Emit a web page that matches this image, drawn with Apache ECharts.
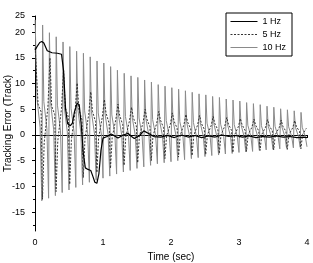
<!DOCTYPE html>
<html>
<head>
<meta charset="utf-8">
<script src="https://cdn.jsdelivr.net/npm/echarts@6/dist/echarts.min.js"></script>
<style>
html,body{margin:0;padding:0;background:#fff;}
#c{width:313px;height:263px;}
</style>
</head>
<body>
<div id="c"></div>
<script>
// ---------- data ----------
const seriesNames = ['1 Hz', '5 Hz', '10 Hz'];

// 1 Hz (solid black): sample times (s) and tracking error
const oneHzTime = [0, 0.03, 0.07, 0.1, 0.13, 0.18, 0.25, 0.33, 0.39, 0.42, 0.45, 0.48, 0.52, 0.55, 0.58, 0.62, 0.65, 0.68, 0.71, 0.74, 0.78, 0.82, 0.85, 0.88, 0.91, 0.94, 0.97, 1.0, 1.06, 1.12, 1.17, 1.22, 1.3, 1.37, 1.42, 1.46, 1.53, 1.6, 1.67, 1.75, 1.85, 1.95, 2.05, 2.15, 2.25, 2.35, 2.45, 2.55, 2.65, 2.75, 2.85, 2.95, 3.05, 3.15, 3.25, 3.35, 3.45, 3.55, 3.65, 3.75, 3.85, 3.95, 4.0];
const oneHzValue = [16.5, 17.2, 18.0, 18.2, 17.9, 16.4, 16.0, 15.9, 15.7, 12.5, 5.0, 2.2, 1.8, 2.3, 4.5, 6.2, 5.9, 2.0, -3.5, -6.4, -6.7, -6.9, -8.0, -9.2, -9.4, -7.5, -3.0, -0.6, -0.3, 0.2, -0.2, -0.6, 0.0, 0.3, -0.3, -0.7, -0.2, 0.8, 0.3, -0.3, -0.4, -0.1, -0.5, 0.0, -0.4, -0.1, -0.5, -0.2, -0.4, 0.0, -0.3, -0.1, -0.4, -0.2, -0.5, -0.3, -0.4, -0.2, -0.4, -0.3, -0.5, -0.4, -0.5];

// 5 Hz (dotted): one cycle every 0.2 s
const fiveHzPeak   = [17.0, 15.0, 12.6, 10.1, 8.4, 6.9, 6.0, 5.4, 5.0, 4.6, 4.3, 4.0, 3.8, 3.6, 3.4, 3.2, 3.1, 3.0, 2.9, 2.8];
const fiveHzAfterPeak = [6.0, 5.6, 5.4, 5.0, 4.6, 4.2, 3.8, 3.4, 3.1, 2.9, 2.7, 2.5, 2.3, 2.2, 2.1, 2.0, 1.9, 1.8, 1.7, 1.6];
const fiveHzBeforeTrough = [4.5, 4.0, 3.5, 3.0, 2.6, 2.3, 2.0, 1.8, 1.6, 1.4, 1.3, 1.2, 1.1, 1.0, 0.9, 0.9, 0.8, 0.8, 0.7, 0.7];
const fiveHzTrough = [-12.5, -11.0, -9.6, -8.3, -7.3, -6.5, -5.9, -5.4, -5.0, -4.6, -4.3, -4.0, -3.8, -3.6, -3.4, -3.2, -3.0, -2.9, -2.8, -2.7];
const fiveHzAfterTrough = [-1.5, -1.2, -1.0, -0.8, -0.6, -0.5, -0.4, -0.3, -0.2, -0.2, -0.1, -0.1, 0.0, 0.0, 0.0, 0.1, 0.1, 0.1, 0.1, 0.1];
const fiveHzBeforePeak = [5.5, 5.2, 4.6, 4.0, 3.5, 3.1, 2.8, 2.5, 2.3, 2.1, 2.0, 1.9, 1.8, 1.7, 1.6, 1.5, 1.5, 1.4, 1.4, 1.3];
const fiveHzCycleStart = [0, 0.2, 0.4, 0.6, 0.8, 1.0, 1.2, 1.4, 1.6, 1.8, 2.0, 2.2, 2.4, 2.6, 2.8, 3.0, 3.2, 3.4, 3.6, 3.8];
const fiveHzPhase = [0.02, 0.045, 0.09, 0.11, 0.135, 0.19]; // sample offsets inside a cycle

// 10 Hz (grey): one cycle every 0.1 s
const tenHzPeak = [22.4, 21.4, 19.9, 19.1, 18.1, 17.2, 16.3, 15.9, 15.2, 14.4, 14.0, 13.3, 12.6, 12.0, 11.5, 11.2, 10.7, 10.3, 9.8, 9.5, 9.2, 8.9, 8.6, 8.3, 8.0, 7.8, 7.5, 7.3, 7.0, 6.8, 6.6, 6.3, 6.1, 5.9, 5.6, 5.4, 5.1, 4.9, 4.7, 4.4];
const tenHzAfterPeak = [7.0, 6.5, 6.2, 5.8, 5.5, 5.2, 5.0, 4.7, 4.5, 4.3, 4.1, 3.9, 3.7, 3.6, 3.4, 3.3, 3.2, 3.0, 2.9, 2.8, 2.7, 2.6, 2.5, 2.4, 2.4, 2.3, 2.2, 2.1, 2.1, 2.0, 2.0, 1.9, 1.8, 1.8, 1.7, 1.7, 1.6, 1.6, 1.5, 1.5];
const tenHzBeforeTrough = [1.5, 1.2, 1.0, 0.8, 0.6, 0.5, 0.4, 0.3, 0.2, 0.2, 0.1, 0.1, 0.0, 0.0, -0.1, -0.1, -0.1, -0.2, -0.2, -0.2, -0.2, -0.2, -0.3, -0.3, -0.3, -0.3, -0.3, -0.3, -0.3, -0.3, -0.3, -0.3, -0.3, -0.3, -0.3, -0.3, -0.3, -0.3, -0.3, -0.3];
const tenHzTrough = [-12.8, -12.3, -11.8, -11.2, -10.7, -10.2, -9.7, -9.2, -8.8, -8.4, -8.0, -7.6, -7.2, -6.9, -6.5, -6.2, -5.9, -5.6, -5.4, -5.2, -5.0, -4.8, -4.6, -4.4, -4.2, -4.0, -3.9, -3.7, -3.6, -3.4, -3.3, -3.2, -3.0, -2.9, -2.8, -2.7, -2.6, -2.5, -2.4, -2.3];
const tenHzCycleStart = [0, 0.1, 0.2, 0.3, 0.4, 0.5, 0.6, 0.7, 0.8, 0.9, 1.0, 1.1, 1.2, 1.3, 1.4, 1.5, 1.6, 1.7, 1.8, 1.9, 2.0, 2.1, 2.2, 2.3, 2.4, 2.5, 2.6, 2.7, 2.8, 2.9, 3.0, 3.1, 3.2, 3.3, 3.4, 3.5, 3.6, 3.7, 3.8, 3.9];
const tenHzPhase = [0.012, 0.03, 0.075, 0.1]; // peak, after peak, before trough, trough

// axis ticks
const xTicks = [0, 1, 2, 3, 4];
const yTickValues = [-15, -10, -5, 0, 5, 10, 15, 20, 23.15];
const yTickLabels = ['-15', '-10', '-5', '0', '5', '10', '15', '20', '25'];
const yMinorTicks = [-17.5, -12.5, -7.5, -2.5, 2.5, 7.5, 12.5, 17.5, 21.6];

// ---------- build series ----------
const oneHzData = oneHzTime.map((t, i) => [t, oneHzValue[i]]);

const fiveHzData = [];
fiveHzCycleStart.forEach((t0, j) => {
  const vals = [fiveHzPeak[j], fiveHzAfterPeak[j], fiveHzBeforeTrough[j], fiveHzTrough[j], fiveHzAfterTrough[j], fiveHzBeforePeak[j]];
  vals.forEach((v, p) => fiveHzData.push([t0 + (j === 0 && p === 0 ? 0.003 : fiveHzPhase[p]), v]));
});

const tenHzData = [];
tenHzCycleStart.forEach((t0, k) => {
  const vals = [tenHzPeak[k], tenHzAfterPeak[k], tenHzBeforeTrough[k], tenHzTrough[k]];
  vals.forEach((v, p) => tenHzData.push([Math.min(4, t0 + (k === 0 && p === 0 ? 0.002 : tenHzPhase[p])), v]));
});

const FONT = 'Liberation Sans, Arial, sans-serif';
const chart = echarts.init(document.getElementById('c'), null, {renderer: 'canvas'});
chart.setOption({
  animation: false,
  backgroundColor: '#fff',
  textStyle: {fontFamily: FONT},
  grid: {left: 35, right: 6, top: 16, bottom: 32, containLabel: false, outerBoundsMode: 'none'},
  legend: {
    orient: 'vertical', left: 226, top: 13,
    data: seriesNames,
    itemWidth: 27, itemHeight: 8, itemGap: 4,
    padding: [4, 6, 4, 4],
    borderColor: '#000', borderWidth: 1,
    itemStyle: {opacity: 0},
    lineStyle: {width: 1},
    textStyle: {fontSize: 9, color: '#000', fontFamily: FONT}
  },
  xAxis: {
    type: 'value', min: 0, max: 4, interval: 1,
    name: 'Time (sec)', nameLocation: 'middle', nameGap: 21, nameMoveOverlap: false,
    nameTextStyle: {fontSize: 10, color: '#000', fontFamily: FONT},
    axisLine: {show: true, lineStyle: {color: '#000', width: 1}},
    axisTick: {show: true, inside: false, length: 3, lineStyle: {color: '#000'}},
    minorTick: {show: true, splitNumber: 2, length: 2, lineStyle: {color: '#000'}},
    splitLine: {show: false},
    axisLabel: {fontSize: 9, color: '#000', margin: 7, fontFamily: FONT,
      customValues: xTicks}
  },
  yAxis: [{
    type: 'value', min: -18.68, max: 23.15,
    name: 'Tracking Error (Track)', nameLocation: 'middle', nameGap: 22, nameMoveOverlap: false,
    nameTextStyle: {fontSize: 10, color: '#000', fontFamily: FONT},
    axisLine: {show: true, lineStyle: {color: '#000', width: 1}},
    axisTick: {show: true, length: 3, lineStyle: {color: '#000'}, customValues: yTickValues},
    splitLine: {show: false},
    axisLabel: {fontSize: 9, color: '#000', margin: 10, fontFamily: FONT,
      customValues: yTickValues,
      formatter: v => yTickLabels[yTickValues.indexOf(v)] ?? ''}
  }, {
    type: 'value', min: -18.68, max: 23.15, position: 'left',
    axisLine: {show: false},
    axisTick: {show: true, length: 2, lineStyle: {color: '#000'}, customValues: yMinorTicks},
    axisLabel: {show: false},
    splitLine: {show: false}
  }],
  series: [
    {name: '10 Hz', type: 'line', data: tenHzData, showSymbol: false, symbol: 'none',
     lineStyle: {color: '#8a8a8a', width: 1}, itemStyle: {color: '#8a8a8a'}, z: 1},
    {name: '5 Hz', type: 'line', data: fiveHzData, showSymbol: false, symbol: 'none',
     lineStyle: {color: '#333', width: 1, type: [2, 1.5]}, itemStyle: {color: '#333'}, z: 2},
    {name: '1 Hz', type: 'line', data: oneHzData, showSymbol: false, symbol: 'none',
     lineStyle: {color: '#000', width: 1.2}, itemStyle: {color: '#000'}, z: 3}
  ]
});
</script>
</body>
</html>
